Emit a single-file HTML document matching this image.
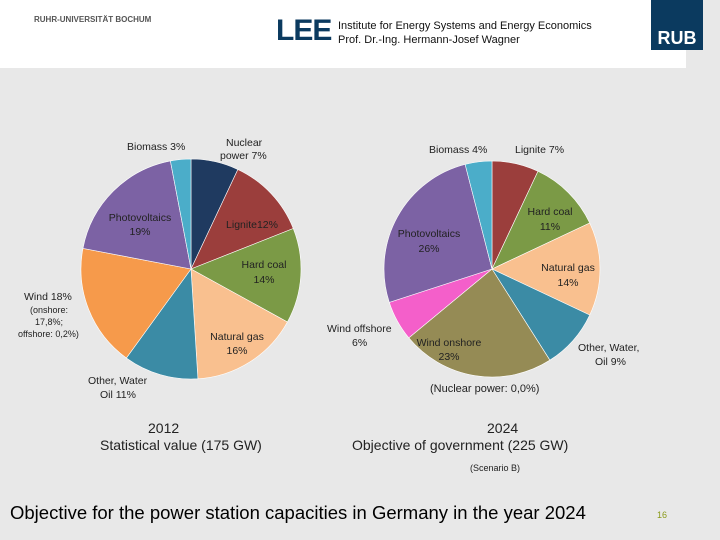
<!DOCTYPE html>
<html><head><meta charset="utf-8"><style>
body{margin:0;width:720px;height:540px;background:#e8e8e8;position:relative;overflow:hidden;font-family:"Liberation Sans",sans-serif}
.t{position:absolute;color:#222;white-space:nowrap}
svg text{font-family:"Liberation Sans",sans-serif;fill:#222}
</style></head><body>
<div style="position:absolute;left:0;top:0;width:686px;height:68px;background:#fff"></div>
<div class="t" style="left:34px;top:15px;font-size:8px;font-weight:bold;color:#555">RUHR-UNIVERSITÄT BOCHUM</div>
<div class="t" style="left:276px;top:16px;font-size:30px;font-weight:bold;color:#0b3a5f;letter-spacing:-1px;line-height:30px">LEE</div>
<div class="t" style="left:338px;top:20px;font-size:11px;color:#111">Institute for Energy Systems and Energy Economics</div>
<div class="t" style="left:338px;top:34px;font-size:11px;color:#111">Prof. Dr.-Ing. Hermann-Josef Wagner</div>
<div style="position:absolute;left:651px;top:0;width:52px;height:50px;background:#0b3a5f;color:#fff;font-weight:bold;font-size:18px;text-align:center;line-height:18px;padding-top:0"><span style="position:relative;top:29px">RUB</span></div>
<svg width="720" height="540" style="position:absolute;left:0;top:0">
<g id="g"></g>
</svg>
<div class="t" style="left:148px;top:420px;font-size:14px">2012</div>
<div class="t" style="left:100px;top:437px;font-size:14px">Statistical value (175 GW)</div>
<div class="t" style="left:487px;top:420px;font-size:14px">2024</div>
<div class="t" style="left:352px;top:437px;font-size:14px">Objective of government (225 GW)</div>
<div class="t" style="left:470px;top:463px;font-size:9px">(Scenario B)</div>
<div class="t" style="left:430px;top:383px;font-size:11px">(Nuclear power: 0,0%)</div>
<div class="t" style="left:10px;top:502px;font-size:18.5px;color:#000">Objective for the power station capacities in Germany in the year 2024</div>
<div class="t" style="left:657px;top:510px;font-size:9px;color:#8a9a1a">16</div>
<script>
const cats2012=["Nuclear power","Lignite","Hard coal","Natural gas","Other, Water, Oil","Wind","Photovoltaics","Biomass"];
const vals2012=[7,12,14,16,11,18,19,3];
const cats2024=["Lignite","Hard coal","Natural gas","Other, Water, Oil","Wind onshore","Wind offshore","Photovoltaics","Biomass"];
const vals2024=[7,11,14,9,23,6,26,4];
const colorMap={"Nuclear power":"#1f3a60","Lignite":"#9b3e3c","Hard coal":"#7b9a46","Natural gas":"#f9c08f","Other, Water, Oil":"#3b8ba5","Wind":"#f69a4b","Photovoltaics":"#7c62a4","Biomass":"#4badc9","Wind onshore":"#958b55","Wind offshore":"#f45fca"};
const NS="http://www.w3.org/2000/svg";
const g=document.getElementById('g');
function pie(cats,vals,cx,cy,r,key){
  const tot=vals.reduce((a,b)=>a+b,0);let a=0;
  vals.forEach((v,i)=>{
    const a0=a/tot*2*Math.PI,a1=(a+v)/tot*2*Math.PI;a+=v;
    const x0=cx+r*Math.sin(a0),y0=cy-r*Math.cos(a0),x1=cx+r*Math.sin(a1),y1=cy-r*Math.cos(a1);
    const p=document.createElementNS(NS,'path');
    p.setAttribute('d',`M${cx},${cy}L${x0},${y0}A${r},${r} 0 ${a1-a0>Math.PI?1:0} 1 ${x1},${y1}Z`);
    p.setAttribute('fill',colorMap[cats[i]]);p.setAttribute('stroke','#fff');p.setAttribute('stroke-width','0.6');
    
    
    g.appendChild(p);
  });
}
pie(cats2012,vals2012,191,269,110,'2012');
pie(cats2024,vals2024,492,269,108,'2024');
const labels=[
["Biomass "+vals2012[7]+"%",127,150,"start"],["Nuclear",226,146,"start"],["power "+vals2012[0]+"%",220,159,"start"],
["Photovoltaics",140,221,"middle"],[vals2012[6]+"%",140,235,"middle"],["Lignite"+vals2012[1]+"%",252,228,"middle"],
["Hard coal",264,268,"middle"],[vals2012[2]+"%",264,283,"middle"],["Natural gas",237,340,"middle"],[vals2012[3]+"%",237,354,"middle"],
["Wind "+vals2012[5]+"%",24,300,"start"],["(onshore:",30,313,"start"],["17,8%;",35,325,"start"],["offshore: 0,2%)",18,337,"start"],
["Other, Water",88,384,"start"],["Oil "+vals2012[4]+"%",100,398,"start"],
["Biomass "+vals2024[7]+"%",429,153,"start"],["Lignite "+vals2024[0]+"%",515,153,"start"],["Hard coal",550,215,"middle"],[vals2024[1]+"%",550,230,"middle"],
["Photovoltaics",429,237,"middle"],[vals2024[6]+"%",429,252,"middle"],["Natural gas",568,271,"middle"],[vals2024[2]+"%",568,286,"middle"],
["Wind offshore",327,332,"start"],[vals2024[5]+"%",352,346,"start"],["Wind onshore",449,346,"middle"],[vals2024[4]+"%",449,360,"middle"],
["Other, Water,",578,351,"start"],["Oil "+vals2024[3]+"%",595,365,"start"]];
const svg=g.parentNode;
labels.forEach(l=>{const t=document.createElementNS(NS,'text');t.setAttribute('x',l[1]);t.setAttribute('y',l[2]);t.setAttribute('text-anchor',l[3]);t.setAttribute('font-size',l[0].startsWith('(')||l[0].startsWith('17')||l[0].startsWith('off')?'9':'10.5');t.textContent=l[0];


svg.appendChild(t);});
</script>
</body></html>
